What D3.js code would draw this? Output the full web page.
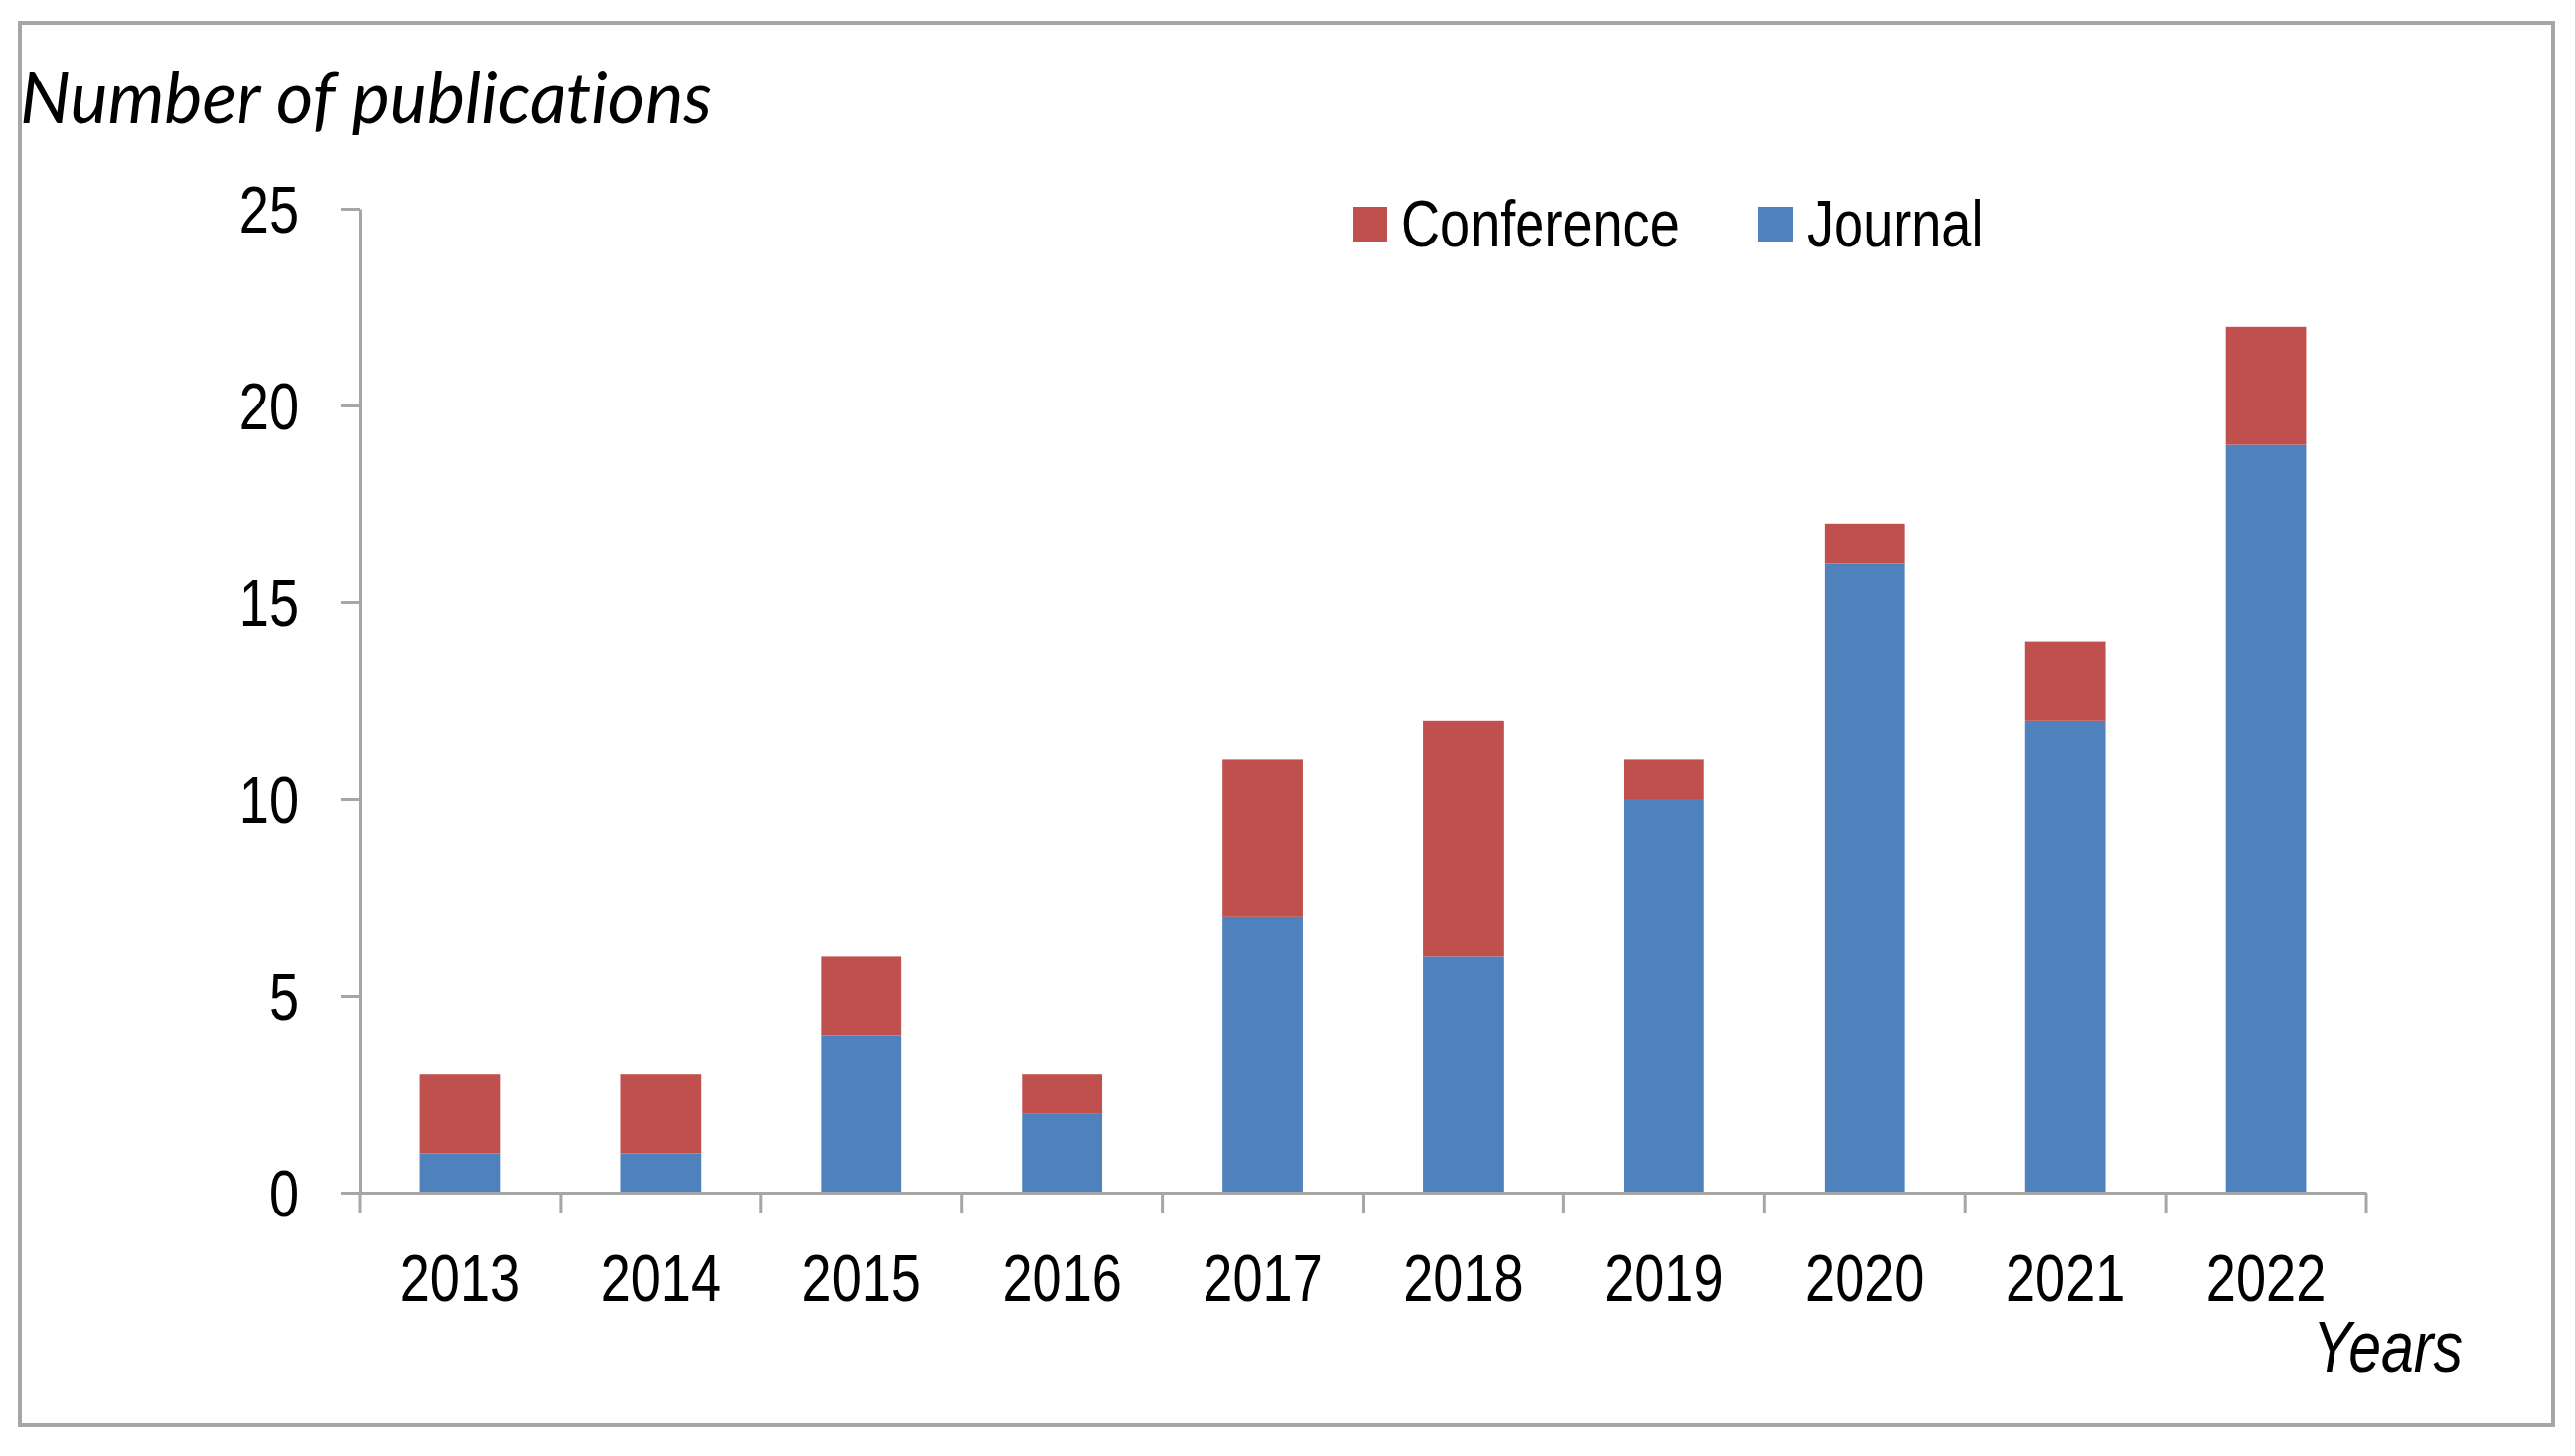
<!DOCTYPE html>
<html>
<head>
<meta charset="utf-8">
<script src="https://cdn.jsdelivr.net/npm/d3@7"></script>
<style>
  html, body { margin: 0; padding: 0; background: #fff; }
</style>
</head>
<body>
<div id="chart"></div>
<script>
const years = ["2013", "2014", "2015", "2016", "2017", "2018", "2019", "2020", "2021", "2022"];
const journal = [1, 1, 4, 2, 7, 6, 10, 16, 12, 19];
const conference = [2, 2, 2, 1, 4, 6, 1, 1, 2, 3];
const yTicks = [0, 5, 10, 15, 20, 25];
const seriesNames = ["Journal", "Conference"];
const seriesColors = ["#4F81BD", "#C0504D"];

const W = 2591, H = 1465;
const sans = "'Liberation Sans', Arial, sans-serif";
const squeeze = 0.82; // no narrow face installed, so condense horizontally

const svg = d3.select("#chart")
    .append("svg")
    .attr("width", W)
    .attr("height", H);

// outer frame
svg.append("rect")
    .attr("x", 20)
    .attr("y", 23)
    .attr("width", 2549)
    .attr("height", 1411)
    .attr("fill", "#fff")
    .attr("stroke", "#A6A6A6")
    .attr("stroke-width", 4);

const plotLeft = 362, plotRight = 2381, plotTop = 210, plotBottom = 1200;

const x = d3.scaleBand()
    .domain(years)
    .range([plotLeft, plotRight])
    .paddingInner(0.6)
    .paddingOuter(0.3);

const y = d3.scaleLinear()
    .domain([0, 25])
    .range([plotBottom, plotTop]);

// stack data
const rows = years.map((yr, i) => ({year: yr, Journal: journal[i], Conference: conference[i]}));
const stacked = d3.stack().keys(seriesNames)(rows);

const g = svg.append("g");

g.selectAll("g.series")
    .data(stacked)
    .join("g")
    .attr("class", "series")
    .attr("fill", (d, i) => seriesColors[i])
  .selectAll("rect")
    .data(d => d)
    .join("rect")
    .attr("x", d => x(d.data.year))
    .attr("y", d => y(d[1]))
    .attr("width", x.bandwidth())
    .attr("height", d => y(d[0]) - y(d[1]));

// y axis
const yAxis = g.append("g")
    .attr("transform", `translate(${plotLeft},0)`)
    .call(d3.axisLeft(y).tickValues(yTicks).tickSize(19).tickSizeOuter(0).tickPadding(42));

// x axis (ticks at band boundaries)
const step = x.step();
const boundaries = d3.range(years.length + 1).map(i => plotLeft + i * step);
const xAxis = g.append("g")
    .attr("transform", `translate(0,${plotBottom})`)
    .call(d3.axisBottom(x).tickSize(0).tickSizeOuter(0).tickPadding(62));

xAxis.selectAll(".tick line").remove();
xAxis.selectAll(".boundary")
    .data(boundaries)
    .join("line")
    .attr("class", "boundary")
    .attr("x1", d => d)
    .attr("x2", d => d)
    .attr("y1", 0)
    .attr("y2", 20)
    .attr("stroke", "#A6A6A6")
    .attr("stroke-width", 3);

[yAxis, xAxis].forEach(ax => {
    ax.select(".domain").attr("stroke", "#A6A6A6").attr("stroke-width", 3);
    ax.selectAll(".tick line").attr("stroke", "#A6A6A6").attr("stroke-width", 3);
    ax.selectAll("text")
        .attr("font-family", sans)
        .attr("font-size", 66)
        .attr("fill", "#000")
        .attr("x", function() { return (+d3.select(this).attr("x") || 0) / squeeze; })
        .attr("transform", `scale(${squeeze},1)`);
});
yAxis.selectAll("text").attr("dy", "0.36em");
xAxis.selectAll("text").attr("dy", "0.71em");

// axis titles
svg.append("text")
    .attr("x", 20)
    .attr("y", 124)
    .attr("font-family", "Lato, 'Open Sans', sans-serif")
    .attr("font-style", "italic")
    .attr("font-size", 72)
    .style("font-variant-ligatures", "none")
    .attr("fill", "#000")
    .text("Number of publications");

svg.append("text")
    .attr("x", 2478 / squeeze)
    .attr("y", 1380)
    .attr("transform", `scale(${squeeze},1)`)
    .attr("text-anchor", "end")
    .attr("font-family", sans)
    .attr("font-style", "italic")
    .attr("font-size", 72)
    .attr("fill", "#000")
    .text("Years");

// legend
const legendItems = [
    {name: "Conference", color: seriesColors[1], x: 1361},
    {name: "Journal", color: seriesColors[0], x: 1769}
];
const legend = svg.append("g");
legendItems.forEach(item => {
    legend.append("rect")
        .attr("x", item.x)
        .attr("y", 208)
        .attr("width", 35)
        .attr("height", 35)
        .attr("fill", item.color);
    legend.append("text")
        .attr("x", (item.x + 49) / squeeze)
        .attr("y", 248)
        .attr("transform", `scale(${squeeze},1)`)
        .attr("font-family", sans)
        .attr("font-size", 66)
        .attr("fill", "#000")
        .text(item.name);
});
</script>
</body>
</html>
